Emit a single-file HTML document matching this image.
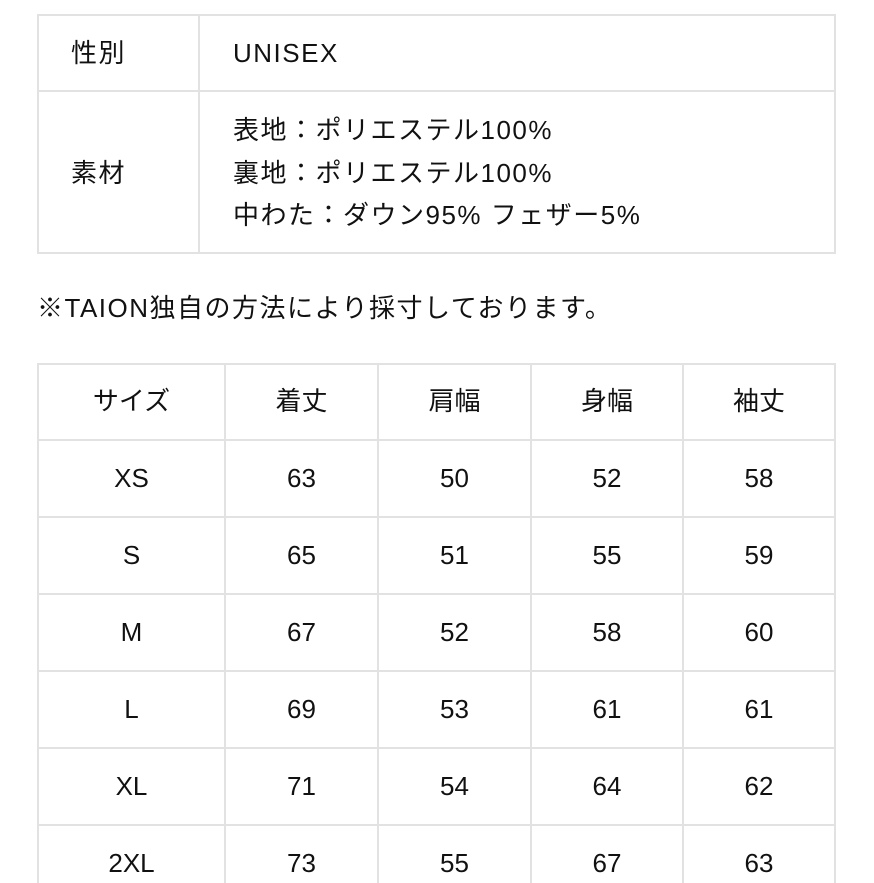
<!DOCTYPE html>
<html><head><meta charset="utf-8"><style>
body{margin:0;width:874px;height:874px;background:#fff;overflow:hidden;position:relative;font-family:"Liberation Sans","Noto Sans CJK JP",sans-serif;color:#111;}
.l{position:absolute;background:#e2e2e2;}
.t{position:absolute;font-size:26px;line-height:30px;white-space:nowrap;letter-spacing:1.5px;}
.c{position:absolute;font-size:26px;line-height:30px;text-align:center;white-space:nowrap;}
</style></head><body>
<div class="l" style="left:37px;top:14px;width:799px;height:2px"></div>
<div class="l" style="left:37px;top:90px;width:799px;height:2px"></div>
<div class="l" style="left:37px;top:252px;width:799px;height:2px"></div>
<div class="l" style="left:37px;top:14px;width:2px;height:240px"></div>
<div class="l" style="left:198px;top:14px;width:2px;height:240px"></div>
<div class="l" style="left:834px;top:14px;width:2px;height:240px"></div>
<div class="t" style="left:71px;top:38px">性別</div>
<div class="t" style="left:233px;top:38px">UNISEX</div>
<div class="t" style="left:71px;top:158px">素材</div>
<div class="t" style="left:233px;top:115px">表地：ポリエステル100%</div>
<div class="t" style="left:233px;top:158px">裏地：ポリエステル100%</div>
<div class="t" style="left:233px;top:200px">中わた：ダウン95% フェザー5%</div>
<div class="t" style="left:37px;top:293px">※TAION独自の方法により採寸しております。</div>
<div class="l" style="left:37px;top:363px;width:799px;height:2px"></div>
<div class="l" style="left:37px;top:439px;width:799px;height:2px"></div>
<div class="l" style="left:37px;top:516px;width:799px;height:2px"></div>
<div class="l" style="left:37px;top:593px;width:799px;height:2px"></div>
<div class="l" style="left:37px;top:670px;width:799px;height:2px"></div>
<div class="l" style="left:37px;top:747px;width:799px;height:2px"></div>
<div class="l" style="left:37px;top:824px;width:799px;height:2px"></div>
<div class="l" style="left:37px;top:363px;width:2px;height:520px"></div>
<div class="l" style="left:224px;top:363px;width:2px;height:520px"></div>
<div class="l" style="left:377px;top:363px;width:2px;height:520px"></div>
<div class="l" style="left:530px;top:363px;width:2px;height:520px"></div>
<div class="l" style="left:682px;top:363px;width:2px;height:520px"></div>
<div class="l" style="left:834px;top:363px;width:2px;height:520px"></div>
<div id="g"></div>
<script>
var cols=[[38,225],[225,378],[378,531],[531,683],[683,835]];
var rows=[["サイズ","着丈","肩幅","身幅","袖丈"],["XS","63","50","52","58"],["S","65","51","55","59"],["M","67","52","58","60"],["L","69","53","61","61"],["XL","71","54","64","62"],["2XL","73","55","67","63"]];
var h="";
rows.forEach(function(r,i){var y=386+i*77;r.forEach(function(t,j){h+='<div class="c" style="left:'+cols[j][0]+'px;width:'+(cols[j][1]-cols[j][0])+'px;top:'+y+'px">'+t+'</div>';});});
document.getElementById("g").innerHTML=h;
</script>
</body></html>
